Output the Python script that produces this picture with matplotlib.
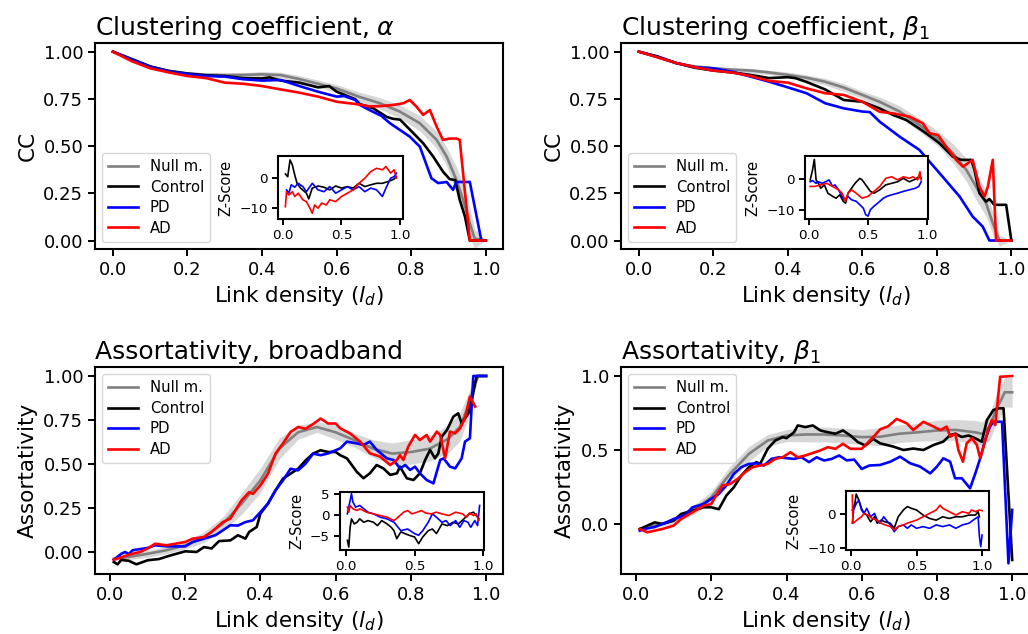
import numpy as np
import matplotlib
matplotlib.use('Agg')
import matplotlib.pyplot as plt

# ---- Clustering coefficient, alpha ----
cca_null_x = [0, 0.05, 0.1, 0.15, 0.2, 0.25, 0.3, 0.35, 0.4, 0.45, 0.5, 0.55, 0.6, 0.662, 0.716, 0.769, 0.823, 0.868, 0.895, 0.921, 0.939, 0.957, 0.97, 1.0]
cca_null_y = [1.0, 0.958, 0.92, 0.898, 0.885, 0.878, 0.876, 0.877, 0.88, 0.876, 0.855, 0.83, 0.805, 0.76, 0.727, 0.683, 0.621, 0.533, 0.444, 0.321, 0.215, 0.092, 0.01, 0.0]
cca_null_sd = [0, 0.005, 0.008, 0.01, 0.01, 0.01, 0.012, 0.012, 0.015, 0.015, 0.018, 0.02, 0.02, 0.025, 0.03, 0.035, 0.04, 0.045, 0.05, 0.07, 0.08, 0.08, 0.05, 0.0]
cca_ctrl_x = [0, 0.05, 0.1, 0.15, 0.2, 0.25, 0.3, 0.35, 0.4, 0.42, 0.45, 0.5, 0.55, 0.58, 0.6, 0.65, 0.662, 0.698, 0.734, 0.75, 0.77, 0.79, 0.805, 0.832, 0.859, 0.885, 0.903, 0.918, 0.93, 0.944, 0.957, 1.0]
cca_ctrl_y = [1.0, 0.962, 0.922, 0.898, 0.884, 0.875, 0.871, 0.86, 0.858, 0.864, 0.847, 0.836, 0.811, 0.818, 0.788, 0.748, 0.723, 0.70, 0.655, 0.645, 0.64, 0.6, 0.57, 0.515, 0.444, 0.365, 0.325, 0.32, 0.215, 0.127, 0.0, 0.0]
cca_pd_x = [0, 0.05, 0.1, 0.15, 0.2, 0.25, 0.3, 0.35, 0.4, 0.45, 0.5, 0.55, 0.6, 0.62, 0.65, 0.662, 0.689, 0.72, 0.743, 0.77, 0.796, 0.823, 0.841, 0.854, 0.872, 0.895, 0.912, 0.921, 0.957, 0.988, 1.0]
cca_pd_y = [1.0, 0.958, 0.92, 0.895, 0.882, 0.871, 0.868, 0.854, 0.847, 0.85, 0.818, 0.788, 0.762, 0.765, 0.744, 0.718, 0.69, 0.66, 0.621, 0.585, 0.55, 0.497, 0.40, 0.33, 0.304, 0.31, 0.268, 0.31, 0.31, 0.0, 0.0]
cca_ad_x = [0, 0.05, 0.1, 0.15, 0.2, 0.25, 0.3, 0.35, 0.4, 0.45, 0.5, 0.55, 0.6, 0.65, 0.689, 0.72, 0.752, 0.779, 0.796, 0.814, 0.832, 0.85, 0.868, 0.885, 0.903, 0.921, 0.93, 0.957, 1.0]
cca_ad_y = [1.0, 0.95, 0.912, 0.89, 0.871, 0.86, 0.836, 0.83, 0.818, 0.80, 0.783, 0.762, 0.735, 0.723, 0.71, 0.712, 0.718, 0.727, 0.744, 0.709, 0.665, 0.691, 0.603, 0.533, 0.54, 0.54, 0.533, 0.0, 0.0]
cca_z_ctrl_x = [0.02, 0.04, 0.06, 0.08, 0.1, 0.12, 0.15, 0.2, 0.22, 0.25, 0.3, 0.35, 0.4, 0.45, 0.5, 0.55, 0.6, 0.65, 0.7, 0.75, 0.8, 0.85, 0.9, 0.95, 0.97]
cca_z_ctrl_y = [1.3, 0.4, 6.0, 4.3, 1.0, -1.8, -3.4, -5.1, -7.0, -3.4, -2.7, -3.1, -4.0, -2.7, -3.4, -2.9, -3.4, -1.8, -2.9, -2.3, -1.8, -1.8, -1.2, -0.4, 0.4]
cca_z_pd_x = [0.03, 0.05, 0.07, 0.1, 0.13, 0.17, 0.2, 0.25, 0.3, 0.35, 0.4, 0.45, 0.5, 0.55, 0.6, 0.65, 0.7, 0.75, 0.8, 0.85, 0.88, 0.92, 0.95, 0.97]
cca_z_pd_y = [-4.0, -5.1, -2.3, -3.1, -1.8, -2.9, -4.6, -1.8, -4.0, -4.6, -2.9, -5.1, -4.0, -2.9, -4.0, -2.9, -4.6, -3.4, -4.0, -6.2, -3.4, -0.1, 0.4, 1.6]
cca_z_ad_x = [0.02, 0.03, 0.05, 0.08, 0.1, 0.13, 0.17, 0.2, 0.23, 0.25, 0.27, 0.3, 0.33, 0.37, 0.4, 0.45, 0.5, 0.55, 0.6, 0.65, 0.7, 0.75, 0.8, 0.85, 0.88, 0.92, 0.95, 0.97]
cca_z_ad_y = [-9.6, -4.6, -5.7, -4.6, -6.2, -5.1, -7.3, -7.9, -10.1, -11.8, -9.0, -10.1, -8.4, -9.0, -7.3, -7.9, -6.2, -5.1, -4.0, -1.8, -0.1, 2.1, 3.2, 2.7, 3.8, 1.6, 2.7, -0.1]

# ---- Clustering coefficient, beta_1 ----
ccb_null_x = [0, 0.05, 0.1, 0.15, 0.2, 0.25, 0.3, 0.35, 0.4, 0.45, 0.5, 0.55, 0.6, 0.646, 0.70, 0.753, 0.807, 0.843, 0.879, 0.905, 0.932, 0.95, 0.968, 1.0]
ccb_null_y = [1.0, 0.972, 0.94, 0.922, 0.912, 0.905, 0.9, 0.89, 0.877, 0.862, 0.841, 0.81, 0.771, 0.735, 0.683, 0.612, 0.533, 0.462, 0.374, 0.286, 0.198, 0.092, 0.0, 0.0]
ccb_null_sd = [0, 0.004, 0.006, 0.008, 0.01, 0.01, 0.012, 0.012, 0.015, 0.015, 0.018, 0.02, 0.02, 0.025, 0.03, 0.035, 0.04, 0.05, 0.06, 0.07, 0.07, 0.06, 0.03, 0]
ccb_ctrl_x = [0, 0.05, 0.1, 0.15, 0.2, 0.25, 0.3, 0.35, 0.4, 0.42, 0.45, 0.5, 0.55, 0.6, 0.646, 0.682, 0.718, 0.745, 0.771, 0.807, 0.843, 0.865, 0.892, 0.901, 0.914, 0.932, 0.941, 0.954, 0.986, 1.0]
ccb_ctrl_y = [1.0, 0.975, 0.94, 0.915, 0.9, 0.89, 0.877, 0.86, 0.865, 0.86, 0.84, 0.80, 0.744, 0.735, 0.70, 0.665, 0.638, 0.603, 0.568, 0.515, 0.444, 0.427, 0.427, 0.374, 0.251, 0.206, 0.22, 0.189, 0.189, 0.0]
ccb_pd_x = [0, 0.05, 0.1, 0.15, 0.2, 0.25, 0.3, 0.35, 0.4, 0.45, 0.5, 0.55, 0.6, 0.62, 0.646, 0.70, 0.753, 0.807, 0.861, 0.896, 0.923, 0.941, 0.97]
ccb_pd_y = [1.0, 0.972, 0.94, 0.918, 0.912, 0.894, 0.868, 0.841, 0.811, 0.78, 0.727, 0.70, 0.683, 0.68, 0.63, 0.55, 0.48, 0.357, 0.233, 0.127, 0.074, 0.0, 0.0]
ccb_ad_x = [0, 0.05, 0.1, 0.15, 0.2, 0.25, 0.3, 0.35, 0.4, 0.45, 0.5, 0.55, 0.6, 0.646, 0.682, 0.727, 0.762, 0.78, 0.803, 0.825, 0.852, 0.87, 0.896, 0.914, 0.928, 0.937, 0.95, 0.959, 1.0]
ccb_ad_y = [1.0, 0.97, 0.94, 0.918, 0.9, 0.89, 0.871, 0.845, 0.836, 0.806, 0.78, 0.771, 0.735, 0.682, 0.673, 0.656, 0.621, 0.568, 0.559, 0.497, 0.427, 0.391, 0.427, 0.286, 0.233, 0.286, 0.427, 0.0, 0.0]
ccb_z_ctrl_x = [0.01, 0.03, 0.045, 0.06, 0.08, 0.1, 0.13, 0.16, 0.2, 0.23, 0.26, 0.29, 0.31, 0.33, 0.36, 0.39, 0.43, 0.45, 0.48, 0.52, 0.55, 0.6, 0.65, 0.7, 0.75, 0.8, 0.85, 0.9, 0.93, 0.95]
ccb_z_ctrl_y = [-0.3, 2.9, 6.3, -0.3, -1.4, -3.0, -1.9, -4.6, -5.6, -6.2, -5.1, -7.2, -7.8, -4.6, -3.0, -1.4, 0.2, -0.3, -1.9, -4.0, -4.6, -3.5, -1.9, -1.4, -0.9, 0.2, -0.9, -0.1, 0.7, 0.2]
ccb_z_pd_x = [0.01, 0.03, 0.06, 0.08, 0.11, 0.14, 0.17, 0.2, 0.22, 0.25, 0.28, 0.3, 0.33, 0.36, 0.4, 0.43, 0.46, 0.48, 0.5, 0.52, 0.55, 0.6, 0.63, 0.66, 0.7, 0.75, 0.8, 0.85, 0.9, 0.93, 0.95]
ccb_z_pd_y = [-0.9, -0.5, -1.4, -0.9, -1.4, -0.9, -0.3, -2.4, -1.9, -3.5, -5.6, -6.7, -5.6, -6.7, -7.2, -8.3, -9.4, -11.5, -12.0, -9.9, -8.8, -7.2, -6.2, -5.6, -5.1, -4.6, -4.0, -3.5, -3.0, -2.4, -0.9]
ccb_z_ad_x = [0.01, 0.05, 0.1, 0.15, 0.2, 0.25, 0.28, 0.31, 0.33, 0.36, 0.4, 0.45, 0.5, 0.55, 0.6, 0.65, 0.7, 0.75, 0.8, 0.85, 0.88, 0.92, 0.94, 0.95]
ccb_z_ad_y = [-2.4, -2.4, -1.9, -1.4, -2.4, -3.5, -4.6, -7.2, -4.6, -3.5, -4.6, -6.2, -5.6, -4.0, -2.4, 0.2, 0.7, -0.3, 0.7, 0.2, 0.7, -0.3, 2.3, -0.3]

# ---- Assortativity, broadband ----
asb_null_x = [0.01, 0.05, 0.1, 0.15, 0.2, 0.25, 0.3, 0.35, 0.4, 0.45, 0.5, 0.55, 0.6, 0.65, 0.7, 0.75, 0.8, 0.85, 0.9, 0.93, 0.95, 0.97, 0.98, 1.0]
asb_null_y = [-0.038, -0.028, -0.01, 0.01, 0.038, 0.085, 0.16, 0.275, 0.407, 0.587, 0.68, 0.71, 0.68, 0.635, 0.587, 0.559, 0.568, 0.587, 0.644, 0.71, 0.814, 0.956, 1.0, 1.0]
asb_null_sd = [0.01, 0.015, 0.02, 0.02, 0.02, 0.03, 0.04, 0.06, 0.07, 0.06, 0.04, 0.03, 0.04, 0.04, 0.05, 0.06, 0.07, 0.07, 0.08, 0.08, 0.07, 0.04, 0.0, 0.0]
asb_ctrl_x = [0.01, 0.02, 0.03, 0.05, 0.07, 0.1, 0.13, 0.16, 0.2, 0.23, 0.25, 0.27, 0.29, 0.32, 0.34, 0.36, 0.37, 0.39, 0.4, 0.42, 0.44, 0.46, 0.48, 0.5, 0.52, 0.54, 0.56, 0.58, 0.6, 0.612, 0.63, 0.656, 0.674, 0.691, 0.709, 0.727, 0.745, 0.763, 0.771, 0.789, 0.807, 0.824, 0.838, 0.851, 0.864, 0.873, 0.882, 0.896, 0.913, 0.926, 0.935, 0.953, 0.962, 0.975, 1.0]
asb_ctrl_y = [-0.057, -0.07, -0.045, -0.05, -0.07, -0.047, -0.04, -0.02, 0.004, 0.0, 0.028, 0.02, 0.062, 0.066, 0.095, 0.076, 0.114, 0.142, 0.218, 0.275, 0.35, 0.417, 0.445, 0.473, 0.52, 0.559, 0.578, 0.568, 0.568, 0.55, 0.532, 0.456, 0.419, 0.447, 0.494, 0.475, 0.438, 0.447, 0.485, 0.419, 0.409, 0.447, 0.523, 0.58, 0.532, 0.56, 0.655, 0.693, 0.769, 0.788, 0.731, 0.788, 0.864, 1.0, 1.0]
asb_pd_x = [0.01, 0.03, 0.04, 0.05, 0.06, 0.1, 0.12, 0.15, 0.2, 0.22, 0.25, 0.28, 0.3, 0.32, 0.34, 0.36, 0.38, 0.4, 0.42, 0.44, 0.46, 0.48, 0.5, 0.52, 0.54, 0.56, 0.58, 0.6, 0.612, 0.63, 0.656, 0.674, 0.691, 0.709, 0.736, 0.754, 0.771, 0.785, 0.798, 0.811, 0.824, 0.842, 0.86, 0.878, 0.887, 0.904, 0.918, 0.935, 0.944, 0.957, 0.966, 1.0]
asb_pd_y = [-0.044, -0.01, 0.0, -0.012, 0.01, 0.023, 0.038, 0.032, 0.032, 0.057, 0.076, 0.095, 0.123, 0.152, 0.15, 0.17, 0.18, 0.227, 0.275, 0.35, 0.407, 0.473, 0.464, 0.502, 0.559, 0.55, 0.56, 0.578, 0.589, 0.627, 0.617, 0.608, 0.627, 0.58, 0.532, 0.523, 0.475, 0.494, 0.466, 0.485, 0.447, 0.409, 0.39, 0.523, 0.532, 0.485, 0.475, 0.532, 0.627, 0.646, 1.0, 1.0]
asb_ad_x = [0.01, 0.03, 0.05, 0.08, 0.1, 0.12, 0.15, 0.2, 0.22, 0.25, 0.27, 0.3, 0.32, 0.35, 0.37, 0.38, 0.4, 0.42, 0.44, 0.46, 0.48, 0.5, 0.52, 0.54, 0.56, 0.58, 0.6, 0.612, 0.638, 0.665, 0.691, 0.718, 0.745, 0.763, 0.771, 0.78, 0.793, 0.811, 0.824, 0.842, 0.851, 0.869, 0.878, 0.891, 0.904, 0.918, 0.931, 0.944, 0.957, 0.971]
asb_ad_y = [-0.044, -0.03, -0.015, 0.0, 0.02, 0.047, 0.038, 0.057, 0.076, 0.085, 0.114, 0.17, 0.19, 0.294, 0.34, 0.33, 0.379, 0.445, 0.559, 0.617, 0.682, 0.71, 0.70, 0.727, 0.758, 0.73, 0.73, 0.703, 0.674, 0.627, 0.561, 0.542, 0.494, 0.523, 0.55, 0.523, 0.598, 0.665, 0.636, 0.665, 0.627, 0.684, 0.665, 0.532, 0.684, 0.674, 0.703, 0.76, 0.883, 0.826]
asb_z_ctrl_x = [0.01, 0.02, 0.03, 0.04, 0.06, 0.08, 0.1, 0.13, 0.16, 0.2, 0.23, 0.26, 0.3, 0.33, 0.35, 0.37, 0.4, 0.43, 0.46, 0.5, 0.53, 0.56, 0.6, 0.63, 0.66, 0.7, 0.74, 0.78, 0.82, 0.86, 0.9, 0.93, 0.95, 0.97]
asb_z_ctrl_y = [-6.0, -7.6, -2.9, -0.9, -2.1, -1.7, -0.9, -1.7, -1.3, -1.7, -2.5, -1.3, -2.1, -2.9, -3.7, -5.6, -4.0, -4.4, -4.8, -5.2, -6.8, -5.2, -3.7, -3.3, -4.4, -2.1, -2.5, -1.7, -2.1, -0.9, 0.3, 0.7, -0.1, -0.9]
asb_z_pd_x = [0.01, 0.02, 0.04, 0.05, 0.07, 0.1, 0.13, 0.16, 0.2, 0.25, 0.3, 0.35, 0.4, 0.45, 0.5, 0.53, 0.56, 0.6, 0.63, 0.66, 0.7, 0.73, 0.76, 0.8, 0.83, 0.86, 0.89, 0.91, 0.94, 0.96, 0.975]
asb_z_pd_y = [0.3, 1.9, 5.1, 3.1, 1.9, 2.3, 1.5, 0.7, 0.3, -0.5, -0.9, -1.7, -3.7, -3.3, -4.4, -4.8, -3.7, -1.7, 0.3, -0.5, -1.7, -1.3, -2.5, -1.3, -2.9, -1.3, -1.7, -2.9, -1.3, -2.5, 2.3]
asb_z_ad_x = [0.01, 0.02, 0.03, 0.05, 0.08, 0.1, 0.15, 0.2, 0.25, 0.3, 0.35, 0.38, 0.42, 0.45, 0.48, 0.52, 0.55, 0.58, 0.62, 0.66, 0.7, 0.75, 0.8, 0.85, 0.88, 0.9, 0.93, 0.95, 0.97]
asb_z_ad_y = [1.9, 0.7, 2.3, 1.5, 1.1, 1.5, 0.7, 0.3, -0.1, -0.5, -1.3, -0.5, 0.7, 1.1, 0.3, 0.7, 1.1, 0.5, 0.3, 0.7, 0.3, -0.1, 0.7, 0.3, -0.5, 0.5, -0.1, 0.3, -1.3]

# ---- Assortativity, beta_1 ----
asbe_null_x = [0.01, 0.05, 0.1, 0.15, 0.2, 0.25, 0.3, 0.35, 0.4, 0.45, 0.5, 0.55, 0.6, 0.65, 0.7, 0.75, 0.8, 0.85, 0.9, 0.92, 0.94, 0.96, 0.97, 0.98, 1.0]
asbe_null_y = [-0.034, -0.011, 0.023, 0.09, 0.18, 0.339, 0.474, 0.564, 0.598, 0.605, 0.605, 0.598, 0.587, 0.59, 0.61, 0.62, 0.632, 0.636, 0.62, 0.61, 0.655, 0.79, 0.835, 0.89, 0.89]
asbe_null_sd = [0.01, 0.015, 0.02, 0.03, 0.04, 0.05, 0.05, 0.04, 0.04, 0.05, 0.05, 0.05, 0.05, 0.06, 0.06, 0.06, 0.07, 0.07, 0.08, 0.08, 0.09, 0.1, 0.1, 0.1, 0.1]
asbe_ctrl_x = [0.01, 0.03, 0.05, 0.07, 0.1, 0.12, 0.15, 0.18, 0.2, 0.22, 0.24, 0.26, 0.28, 0.3, 0.32, 0.33, 0.35, 0.37, 0.39, 0.4, 0.42, 0.43, 0.45, 0.47, 0.49, 0.51, 0.53, 0.55, 0.57, 0.59, 0.61, 0.63, 0.649, 0.684, 0.711, 0.737, 0.764, 0.791, 0.817, 0.835, 0.849, 0.866, 0.884, 0.902, 0.919, 0.933, 0.95, 0.964, 0.977, 1.0]
asbe_ctrl_y = [-0.034, -0.011, 0.011, 0.0, 0.023, 0.068, 0.09, 0.113, 0.113, 0.1, 0.192, 0.248, 0.327, 0.384, 0.418, 0.406, 0.508, 0.564, 0.587, 0.58, 0.62, 0.666, 0.655, 0.666, 0.632, 0.62, 0.61, 0.632, 0.598, 0.553, 0.53, 0.575, 0.545, 0.523, 0.50, 0.51, 0.50, 0.534, 0.557, 0.601, 0.61, 0.588, 0.598, 0.579, 0.556, 0.703, 0.77, 0.782, 0.782, -0.243]
asbe_pd_x = [0.01, 0.03, 0.05, 0.08, 0.1, 0.13, 0.15, 0.18, 0.2, 0.22, 0.24, 0.26, 0.28, 0.3, 0.32, 0.34, 0.36, 0.38, 0.4, 0.42, 0.44, 0.46, 0.48, 0.5, 0.52, 0.54, 0.56, 0.58, 0.6, 0.62, 0.649, 0.676, 0.702, 0.729, 0.755, 0.782, 0.8, 0.817, 0.835, 0.848, 0.866, 0.888, 0.902, 0.915, 0.928, 0.941, 0.95, 0.973, 0.99, 1.0]
asbe_pd_y = [-0.045, -0.03, -0.02, 0.01, 0.034, 0.06, 0.113, 0.135, 0.17, 0.203, 0.26, 0.339, 0.384, 0.406, 0.41, 0.395, 0.44, 0.451, 0.445, 0.44, 0.451, 0.418, 0.451, 0.429, 0.44, 0.463, 0.43, 0.435, 0.372, 0.395, 0.399, 0.421, 0.455, 0.41, 0.388, 0.342, 0.388, 0.444, 0.421, 0.309, 0.309, 0.241, 0.342, 0.444, 0.568, 0.658, 0.691, 0.691, -0.266, 0.095]
asbe_ad_x = [0.01, 0.03, 0.05, 0.07, 0.1, 0.12, 0.15, 0.18, 0.2, 0.21, 0.23, 0.25, 0.27, 0.29, 0.31, 0.33, 0.35, 0.37, 0.39, 0.41, 0.43, 0.45, 0.47, 0.49, 0.51, 0.53, 0.55, 0.57, 0.6, 0.62, 0.635, 0.649, 0.67, 0.693, 0.72, 0.737, 0.764, 0.791, 0.809, 0.826, 0.835, 0.849, 0.857, 0.869, 0.879, 0.893, 0.906, 0.915, 0.924, 0.937, 0.946, 0.955, 0.968, 1.0]
asbe_ad_y = [-0.034, -0.056, -0.045, -0.034, -0.011, 0.034, 0.079, 0.124, 0.135, 0.18, 0.26, 0.27, 0.305, 0.35, 0.384, 0.395, 0.406, 0.44, 0.451, 0.485, 0.451, 0.463, 0.48, 0.497, 0.519, 0.508, 0.542, 0.508, 0.508, 0.56, 0.6, 0.64, 0.66, 0.71, 0.68, 0.635, 0.691, 0.658, 0.635, 0.658, 0.59, 0.61, 0.50, 0.421, 0.545, 0.58, 0.534, 0.444, 0.523, 0.646, 0.703, 0.669, 0.995, 1.0]
asbe_z_ctrl_x = [0.01, 0.03, 0.04, 0.06, 0.08, 0.1, 0.12, 0.15, 0.18, 0.2, 0.23, 0.26, 0.3, 0.33, 0.36, 0.4, 0.43, 0.46, 0.5, 0.55, 0.6, 0.65, 0.7, 0.75, 0.8, 0.85, 0.9, 0.95, 0.97, 0.98]
asbe_z_ctrl_y = [1.2, 3.1, 5.9, 4.1, 1.7, 0.2, -0.3, -2.3, -0.8, -2.7, -1.8, -2.3, -2.7, -4.2, -0.8, 1.2, 2.2, 1.7, 1.2, -0.3, -1.3, -1.8, -0.8, -1.3, -0.8, -0.8, -0.3, -0.3, 0.7, -0.8]
asbe_z_pd_x = [0.01, 0.02, 0.04, 0.06, 0.08, 0.1, 0.12, 0.15, 0.18, 0.2, 0.22, 0.25, 0.28, 0.3, 0.33, 0.36, 0.4, 0.43, 0.46, 0.5, 0.55, 0.6, 0.65, 0.7, 0.75, 0.8, 0.85, 0.9, 0.95, 0.97, 0.98, 0.99, 1.0]
asbe_z_pd_y = [-2.7, 1.2, 3.1, 4.1, 1.2, 0.2, 1.7, -0.8, 0.2, -1.8, -2.7, -0.8, -2.3, -3.2, -5.2, -3.7, -3.2, -4.2, -3.2, -4.2, -3.7, -4.2, -3.2, -3.7, -3.2, -4.2, -3.2, -2.7, -1.3, -0.8, -6.7, -9.6, -6.2]
asbe_z_ad_x = [0.01, 0.015, 0.03, 0.06, 0.08, 0.1, 0.13, 0.16, 0.2, 0.23, 0.26, 0.3, 0.33, 0.36, 0.4, 0.43, 0.46, 0.5, 0.55, 0.6, 0.65, 0.68, 0.7, 0.75, 0.8, 0.85, 0.9, 0.92, 0.95, 0.98, 1.0]
asbe_z_ad_y = [5.6, -2.7, -2.3, -1.3, -0.8, 0.2, -0.3, -1.3, -1.8, -2.7, -3.2, -3.7, -4.7, -3.7, -3.2, -2.7, -2.3, -1.8, -0.8, 0.2, 1.2, 2.6, 1.7, 0.7, -0.3, 0.7, 0.2, 1.2, 0.7, 1.2, 1.0]

labels = ['Null m.', 'Control', 'PD', 'AD']
colors = ['gray', 'k', 'b', 'r']

W, H = 1028, 634


def px_rect(left, top, right, bottom):
    return [left / W, 1 - bottom / H, (right - left) / W, (bottom - top) / H]


def panel(fig, rect, title, ylabel, null, groups, ylim, xlim, yticks, legend_loc,
          inset_rect, zgroups, zxlim, zylim, zyticks):
    ax = fig.add_axes(px_rect(*rect))
    nx_, ny_, nsd = (np.array(v) for v in null)
    ax.fill_between(nx_, ny_ - nsd, ny_ + nsd, color='lightgray', alpha=0.9, lw=0)
    ax.plot(nx_, ny_, color=colors[0], lw=1.9, label=labels[0])
    for (gx, gy), c, lab in zip(groups, colors[1:], labels[1:]):
        ax.plot(gx, gy, color=c, lw=1.9, label=lab)
    ax.set_xlim(*xlim)
    ax.set_ylim(*ylim)
    ax.set_yticks(yticks)
    ax.set_xticks([0, 0.2, 0.4, 0.6, 0.8, 1.0])
    ax.set_title(title, loc='left', fontsize=18)
    ax.set_ylabel(ylabel, fontsize=15.5)
    ax.set_xlabel('Link density ($l_d$)', fontsize=15.5)
    ax.tick_params(labelsize=13, width=1.4, length=5)
    for s in ax.spines.values():
        s.set_linewidth(1.5)
    ax.legend(loc=legend_loc, fontsize=10.7, labelspacing=0.37)

    ins = fig.add_axes(px_rect(*inset_rect))
    for (zx, zy), c in zip(zgroups, colors[1:]):
        ins.plot(zx, zy, color=c, lw=1.2)
    ins.set_xlim(*zxlim)
    ins.set_ylim(*zylim)
    ins.set_xticks([0, 0.5, 1.0])
    ins.set_yticks(zyticks)
    ins.set_ylabel('Z-Score', fontsize=10.5)
    ins.tick_params(labelsize=9.7, width=1.4, length=4)
    for s in ins.spines.values():
        s.set_linewidth(1.5)
    return ax, ins


fig = plt.figure(figsize=(W / 100, H / 100), dpi=100)

panel(fig, (95, 43, 503, 249), r'Clustering coefficient, $\alpha$', 'CC',
      (cca_null_x, cca_null_y, cca_null_sd),
      [(cca_ctrl_x, cca_ctrl_y), (cca_pd_x, cca_pd_y), (cca_ad_x, cca_ad_y)],
      (-0.045, 1.046), (-0.048, 1.046), [0, 0.25, 0.5, 0.75, 1.0], 'lower left',
      (278, 156, 403, 219),
      [(cca_z_ctrl_x, cca_z_ctrl_y), (cca_z_pd_x, cca_z_pd_y), (cca_z_ad_x, cca_z_ad_y)],
      (-0.043, 1.026), (-13.7, 7.3), [-10, 0])

panel(fig, (621, 43, 1030, 249), r'Clustering coefficient, $\beta_1$', 'CC',
      (ccb_null_x, ccb_null_y, ccb_null_sd),
      [(ccb_ctrl_x, ccb_ctrl_y), (ccb_pd_x, ccb_pd_y), (ccb_ad_x, ccb_ad_y)],
      (-0.045, 1.046), (-0.048, 1.05), [0, 0.25, 0.5, 0.75, 1.0], 'lower left',
      (805, 156, 928, 219),
      [(ccb_z_ctrl_x, ccb_z_ctrl_y), (ccb_z_pd_x, ccb_z_pd_y), (ccb_z_ad_x, ccb_z_ad_y)],
      (-0.034, 1.008), (-12.9, 7.4), [-10, 0])

panel(fig, (95, 367, 503, 574), 'Assortativity, broadband', 'Assortativity',
      (asb_null_x, asb_null_y, asb_null_sd),
      [(asb_ctrl_x, asb_ctrl_y), (asb_pd_x, asb_pd_y), (asb_ad_x, asb_ad_y)],
      (-0.125, 1.051), (-0.04, 1.045), [0, 0.25, 0.5, 0.75, 1.0], 'upper left',
      (340, 492, 484, 550),
      [(asb_z_ctrl_x, asb_z_ctrl_y), (asb_z_pd_x, asb_z_pd_y), (asb_z_ad_x, asb_z_ad_y)],
      (-0.044, 1.007), (-8.3, 5.5), [-5, 0, 5])

panel(fig, (621, 367, 1031, 574), r'Assortativity, $\beta_1$', 'Assortativity',
      (asbe_null_x, asbe_null_y, asbe_null_sd),
      [(asbe_ctrl_x, asbe_ctrl_y), (asbe_pd_x, asbe_pd_y), (asbe_ad_x, asbe_ad_y)],
      (-0.338, 1.061), (-0.04, 1.05), [0, 0.5, 1.0], 'upper left',
      (846, 491, 989, 550),
      [(asbe_z_ctrl_x, asbe_z_ctrl_y), (asbe_z_pd_x, asbe_z_pd_y), (asbe_z_ad_x, asbe_z_ad_y)],
      (-0.038, 1.053), (-10.6, 6.8), [-10, 0])

fig.savefig('out.png', dpi=100)
